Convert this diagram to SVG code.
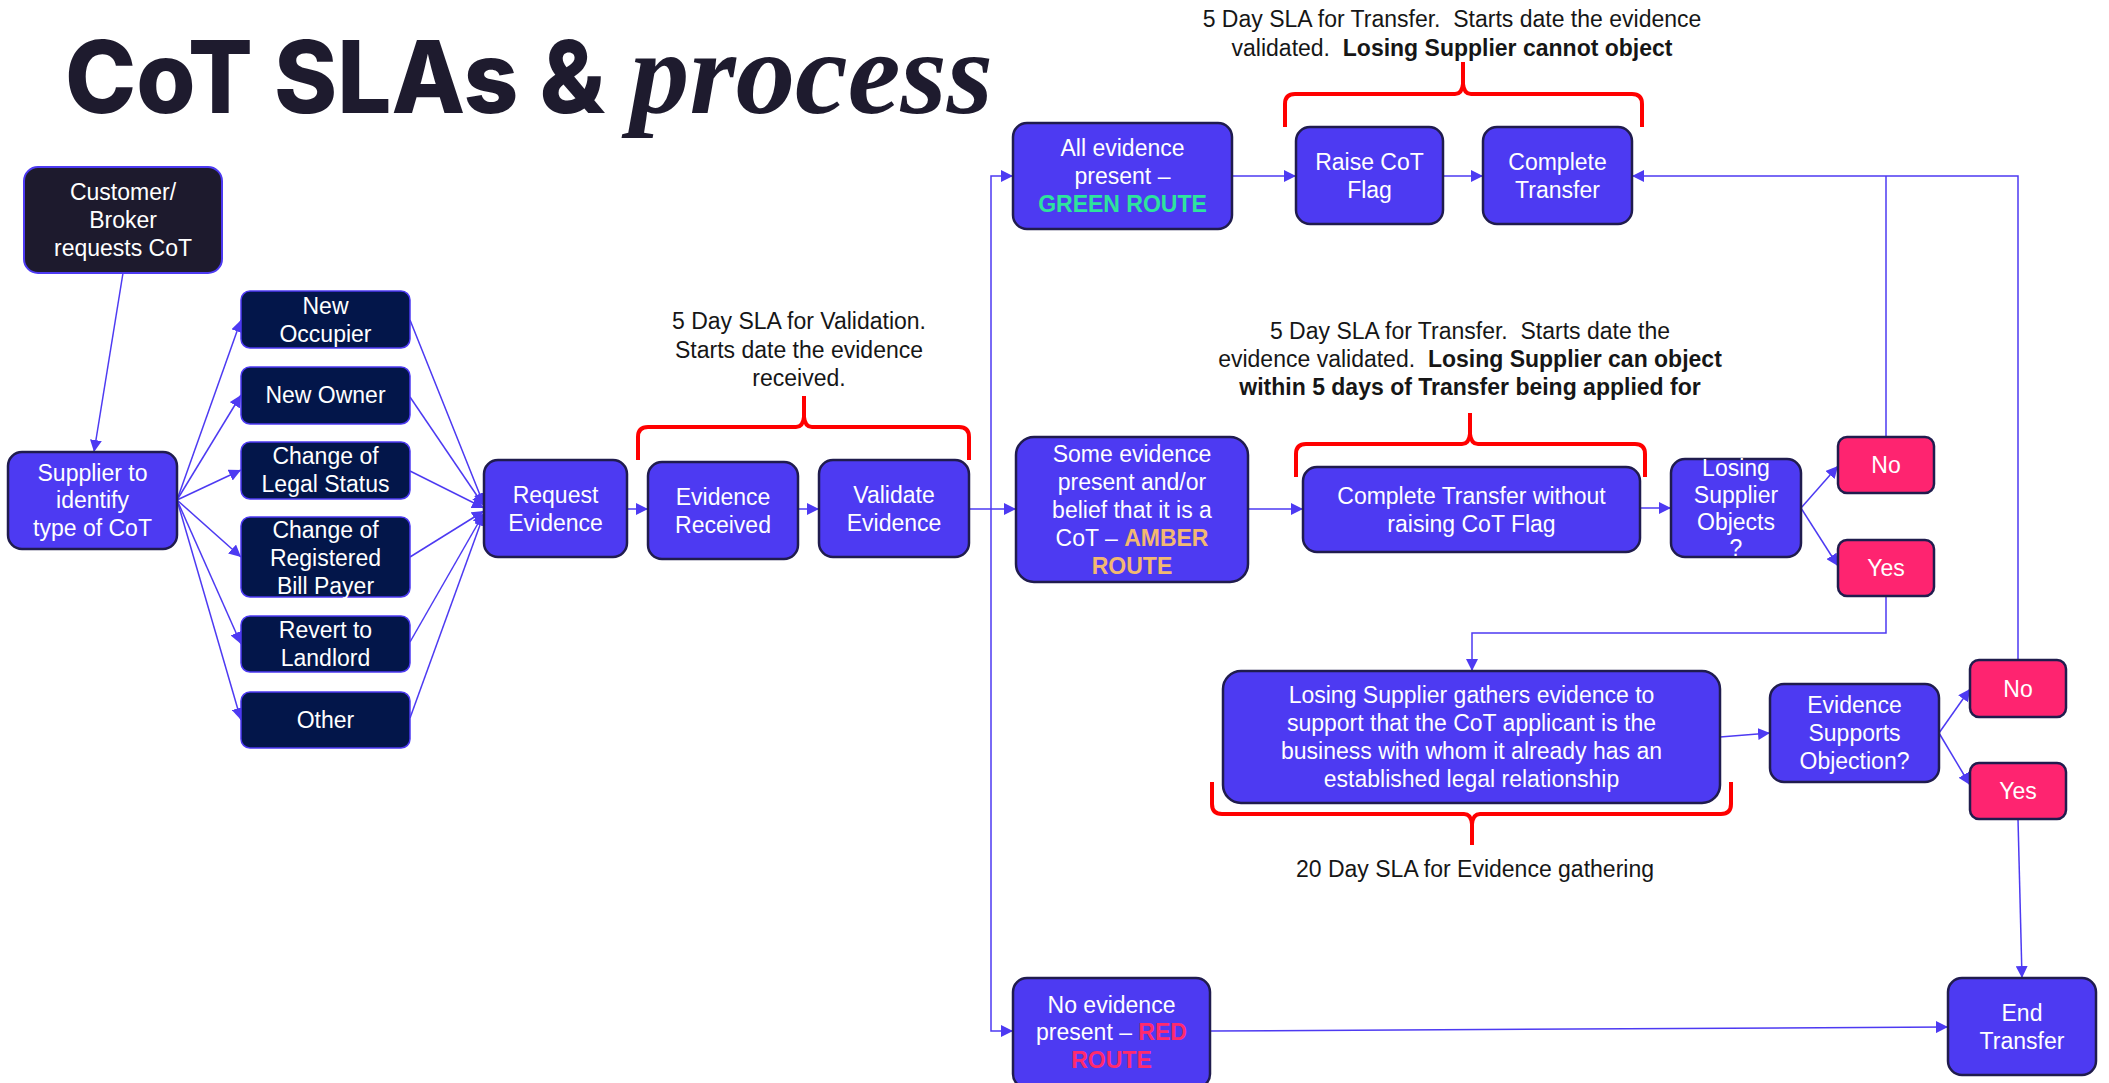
<svg xmlns="http://www.w3.org/2000/svg" width="2109" height="1083" viewBox="0 0 2109 1083">
  <style>
    .t { font-family: "Liberation Sans", Arial, sans-serif; font-size: 23px; fill: #ffffff; text-anchor: middle; }
    .a { font-family: "Liberation Sans", Arial, sans-serif; font-size: 23px; fill: #161616; text-anchor: middle; }
    .b { font-weight: bold; }
    .purple { fill: #4d3af2; stroke: #201c4e; stroke-width: 2.5; }
    .navy { fill: #03164a; stroke: #4d3af2; stroke-width: 1.5; }
    .dark { fill: #1d1a2d; stroke: #4d3af2; stroke-width: 2; }
    .pink { fill: #fe2470; stroke: #201c4e; stroke-width: 2.5; }
    .conn { fill: none; stroke: #4d3af2; stroke-width: 1.5; }
    .brace { fill: none; stroke: #ff0000; stroke-width: 4; stroke-linejoin: round; }
  </style>
  <defs>
    <marker id="arr" viewBox="0 0 10 10" refX="10" refY="5" markerWidth="12" markerHeight="12" markerUnits="userSpaceOnUse" orient="auto">
      <path d="M0,0 L10,5 L0,10 z" fill="#4d3af2"/>
    </marker>
  </defs>
  <rect width="2109" height="1083" fill="#ffffff"/>

  <!-- Title -->
  <g id="title">
    <text x="65" y="113" font-family="Inter, 'Liberation Sans', sans-serif" font-weight="800" font-size="100" fill="#1e1b2e" textLength="540" lengthAdjust="spacingAndGlyphs">CoT SLAs &amp;</text>
    <text x="630" y="113" font-family="'Liberation Serif', serif" font-style="italic" font-weight="bold" font-size="118" fill="#1e1b2e" textLength="363" lengthAdjust="spacingAndGlyphs">process</text>
  </g>

  <!-- Connectors -->
  <g id="connectors">
    <line class="conn" x1="123" y1="273" x2="94" y2="452" marker-end="url(#arr)"/>
    <!-- supplier to CoT types -->
    <line class="conn" x1="177" y1="500" x2="241" y2="320" marker-end="url(#arr)"/>
    <line class="conn" x1="177" y1="500" x2="241" y2="395" marker-end="url(#arr)"/>
    <line class="conn" x1="177" y1="500" x2="241" y2="470" marker-end="url(#arr)"/>
    <line class="conn" x1="177" y1="500" x2="241" y2="557" marker-end="url(#arr)"/>
    <line class="conn" x1="177" y1="500" x2="241" y2="644" marker-end="url(#arr)"/>
    <line class="conn" x1="177" y1="500" x2="241" y2="720" marker-end="url(#arr)"/>
    <!-- CoT types to request evidence -->
    <line class="conn" x1="410" y1="320" x2="484" y2="505" marker-end="url(#arr)"/>
    <line class="conn" x1="410" y1="397" x2="484" y2="506" marker-end="url(#arr)"/>
    <line class="conn" x1="410" y1="471" x2="484" y2="508" marker-end="url(#arr)"/>
    <line class="conn" x1="410" y1="557" x2="484" y2="511" marker-end="url(#arr)"/>
    <line class="conn" x1="410" y1="642" x2="484" y2="513" marker-end="url(#arr)"/>
    <line class="conn" x1="410" y1="718" x2="484" y2="514" marker-end="url(#arr)"/>
    <!-- main line -->
    <line class="conn" x1="627" y1="509" x2="648" y2="509" marker-end="url(#arr)"/>
    <line class="conn" x1="798" y1="509" x2="819" y2="509" marker-end="url(#arr)"/>
    <line class="conn" x1="969" y1="509" x2="1016" y2="509" marker-end="url(#arr)"/>
    <!-- route split -->
    <polyline class="conn" points="991,509 991,176 1013,176" marker-end="url(#arr)"/>
    <polyline class="conn" points="991,509 991,1031 1013,1031" marker-end="url(#arr)"/>
    <!-- green route -->
    <line class="conn" x1="1232" y1="176" x2="1296" y2="176" marker-end="url(#arr)"/>
    <line class="conn" x1="1443" y1="176" x2="1483" y2="176" marker-end="url(#arr)"/>
    <!-- amber route -->
    <line class="conn" x1="1248" y1="509" x2="1303" y2="509" marker-end="url(#arr)"/>
    <line class="conn" x1="1640" y1="508" x2="1671" y2="508" marker-end="url(#arr)"/>
    <line class="conn" x1="1801" y1="508" x2="1838" y2="466" marker-end="url(#arr)"/>
    <line class="conn" x1="1801" y1="508" x2="1838" y2="566" marker-end="url(#arr)"/>
    <!-- objection outcomes back to complete transfer -->
    <polyline class="conn" points="1886,437 1886,176"/>
    <polyline class="conn" points="2018,660 2018,176 1632,176" marker-end="url(#arr)"/>
    <polyline class="conn" points="1886,596 1886,633 1472,633 1472,671" marker-end="url(#arr)"/>
    <line class="conn" x1="1720" y1="737" x2="1770" y2="733" marker-end="url(#arr)"/>
    <line class="conn" x1="1939" y1="733" x2="1970" y2="689" marker-end="url(#arr)"/>
    <line class="conn" x1="1939" y1="733" x2="1970" y2="785" marker-end="url(#arr)"/>
    <line class="conn" x1="2018" y1="819" x2="2022" y2="978" marker-end="url(#arr)"/>
    <!-- red route -->
    <line class="conn" x1="1210" y1="1031" x2="1948" y2="1027" stroke-width="2" marker-end="url(#arr)"/>
  </g>

  <!-- SLA braces -->
  <g id="braces">
    <path class="brace" d="M638,460 V437 Q638,427 648,427 H796 Q803,427 804,417 V396 M804,417 Q805,427 812,427 H959 Q969,427 969,437 V460"/>
    <path class="brace" d="M1285,127 V104 Q1285,94 1295,94 H1455 Q1462,94 1463,84 V62 M1463,84 Q1464,94 1471,94 H1632 Q1642,94 1642,104 V127"/>
    <path class="brace" d="M1296,477 V454 Q1296,444 1306,444 H1462 Q1469,444 1470,434 V413 M1470,434 Q1471,444 1478,444 H1635 Q1645,444 1645,454 V477"/>
    <path class="brace" d="M1212,782 V804 Q1212,814 1222,814 H1464 Q1471,814 1472,824 V845 M1472,824 Q1473,814 1480,814 H1721 Q1731,814 1731,804 V782"/>
  </g>

  <!-- SLA notes -->
  <g id="notes">
    <text class="a" x="1452" y="27">5 Day SLA for Transfer.&#160; Starts date the evidence</text>
    <text class="a" x="1452" y="56">validated.&#160; <tspan class="b">Losing Supplier cannot object</tspan></text>
    <text class="a" x="799" y="329">5 Day SLA for Validation.</text>
    <text class="a" x="799" y="358">Starts date the evidence</text>
    <text class="a" x="799" y="386">received.</text>
    <text class="a" x="1470" y="339">5 Day SLA for Transfer.&#160; Starts date the</text>
    <text class="a" x="1470" y="367">evidence validated.&#160; <tspan class="b">Losing Supplier can object</tspan></text>
    <text class="a b" x="1470" y="395">within 5 days of Transfer being applied for</text>
    <text class="a" x="1475" y="877">20 Day SLA for Evidence gathering</text>
  </g>

  <!-- Nodes -->
  <g id="customer-request">
    <rect class="dark" x="24" y="167" width="198" height="106" rx="14"/>
    <text class="t" x="123" y="200">Customer/</text>
    <text class="t" x="123" y="228">Broker</text>
    <text class="t" x="123" y="256">requests CoT</text>
  </g>
  <g id="supplier-identify">
    <rect class="purple" x="8" y="452" width="169" height="97" rx="14"/>
    <text class="t" x="92.5" y="481">Supplier to</text>
    <text class="t" x="92.5" y="508">identify</text>
    <text class="t" x="92.5" y="536">type of CoT</text>
  </g>
  <g id="new-occupier">
    <rect class="navy" x="241" y="291" width="169" height="57" rx="9"/>
    <text class="t" x="325.5" y="314">New</text>
    <text class="t" x="325.5" y="342">Occupier</text>
  </g>
  <g id="new-owner">
    <rect class="navy" x="241" y="367" width="169" height="57" rx="9"/>
    <text class="t" x="325.5" y="403">New Owner</text>
  </g>
  <g id="legal-status">
    <rect class="navy" x="241" y="442" width="169" height="57" rx="9"/>
    <text class="t" x="325.5" y="464">Change of</text>
    <text class="t" x="325.5" y="492">Legal Status</text>
  </g>
  <g id="bill-payer">
    <rect class="navy" x="241" y="517" width="169" height="80" rx="9"/>
    <text class="t" x="325.5" y="538">Change of</text>
    <text class="t" x="325.5" y="566">Registered</text>
    <text class="t" x="325.5" y="594">Bill Payer</text>
  </g>
  <g id="revert-landlord">
    <rect class="navy" x="241" y="616" width="169" height="56" rx="9"/>
    <text class="t" x="325.5" y="638">Revert to</text>
    <text class="t" x="325.5" y="666">Landlord</text>
  </g>
  <g id="other">
    <rect class="navy" x="241" y="692" width="169" height="56" rx="9"/>
    <text class="t" x="325.5" y="728">Other</text>
  </g>
  <g id="request-evidence">
    <rect class="purple" x="484" y="460" width="143" height="97" rx="14"/>
    <text class="t" x="555.5" y="503">Request</text>
    <text class="t" x="555.5" y="531">Evidence</text>
  </g>
  <g id="evidence-received">
    <rect class="purple" x="648" y="462" width="150" height="97" rx="14"/>
    <text class="t" x="723" y="505">Evidence</text>
    <text class="t" x="723" y="533">Received</text>
  </g>
  <g id="validate-evidence">
    <rect class="purple" x="819" y="460" width="150" height="97" rx="14"/>
    <text class="t" x="894" y="503">Validate</text>
    <text class="t" x="894" y="531">Evidence</text>
  </g>
  <g id="green-route">
    <rect class="purple" x="1013" y="123" width="219" height="106" rx="14"/>
    <text class="t" x="1122.5" y="156">All evidence</text>
    <text class="t" x="1122.5" y="184">present –</text>
    <text class="t b" x="1122.5" y="212" style="fill:#2ee39d">GREEN ROUTE</text>
  </g>
  <g id="raise-flag">
    <rect class="purple" x="1296" y="127" width="147" height="97" rx="14"/>
    <text class="t" x="1369.5" y="170">Raise CoT</text>
    <text class="t" x="1369.5" y="198">Flag</text>
  </g>
  <g id="complete-transfer">
    <rect class="purple" x="1483" y="127" width="149" height="97" rx="14"/>
    <text class="t" x="1557.5" y="170">Complete</text>
    <text class="t" x="1557.5" y="198">Transfer</text>
  </g>
  <g id="amber-route">
    <rect class="purple" x="1016" y="437" width="232" height="145" rx="18"/>
    <text class="t" x="1132" y="462">Some evidence</text>
    <text class="t" x="1132" y="490">present and/or</text>
    <text class="t" x="1132" y="518">belief that it is a</text>
    <text class="t" x="1132" y="546">CoT – <tspan class="b" style="fill:#f2b872">AMBER</tspan></text>
    <text class="t b" x="1132" y="574" style="fill:#f2b872">ROUTE</text>
  </g>
  <g id="complete-without-flag">
    <rect class="purple" x="1303" y="467" width="337" height="85" rx="14"/>
    <text class="t" x="1471.5" y="504">Complete Transfer without</text>
    <text class="t" x="1471.5" y="532">raising CoT Flag</text>
  </g>
  <g id="supplier-objects">
    <rect class="purple" x="1671" y="459" width="130" height="98" rx="14"/>
    <text class="t" x="1736" y="476">Losing</text>
    <text class="t" x="1736" y="503">Supplier</text>
    <text class="t" x="1736" y="530">Objects</text>
    <text class="t" x="1736" y="556">?</text>
  </g>
  <g id="objects-no">
    <rect class="pink" x="1838" y="437" width="96" height="56" rx="9"/>
    <text class="t" x="1886" y="473">No</text>
  </g>
  <g id="objects-yes">
    <rect class="pink" x="1838" y="540" width="96" height="56" rx="9"/>
    <text class="t" x="1886" y="576">Yes</text>
  </g>
  <g id="gather-evidence">
    <rect class="purple" x="1223" y="671" width="497" height="132" rx="18"/>
    <text class="t" x="1471.5" y="703">Losing Supplier gathers evidence to</text>
    <text class="t" x="1471.5" y="731">support that the CoT applicant is the</text>
    <text class="t" x="1471.5" y="759">business with whom it already has an</text>
    <text class="t" x="1471.5" y="787">established legal relationship</text>
  </g>
  <g id="supports-objection">
    <rect class="purple" x="1770" y="684" width="169" height="98" rx="14"/>
    <text class="t" x="1854.5" y="713">Evidence</text>
    <text class="t" x="1854.5" y="741">Supports</text>
    <text class="t" x="1854.5" y="769">Objection?</text>
  </g>
  <g id="supports-no">
    <rect class="pink" x="1970" y="660" width="96" height="57" rx="9"/>
    <text class="t" x="2018" y="697">No</text>
  </g>
  <g id="supports-yes">
    <rect class="pink" x="1970" y="763" width="96" height="56" rx="9"/>
    <text class="t" x="2018" y="799">Yes</text>
  </g>
  <g id="red-route">
    <rect class="purple" x="1013" y="978" width="197" height="110" rx="14"/>
    <text class="t" x="1111.5" y="1013">No evidence</text>
    <text class="t" x="1111.5" y="1040">present – <tspan class="b" style="fill:#ff2a6d">RED</tspan></text>
    <text class="t b" x="1111.5" y="1068" style="fill:#ff2a6d">ROUTE</text>
  </g>
  <g id="end-transfer">
    <rect class="purple" x="1948" y="978" width="148" height="97" rx="14"/>
    <text class="t" x="2022" y="1021">End</text>
    <text class="t" x="2022" y="1049">Transfer</text>
  </g>
</svg>
